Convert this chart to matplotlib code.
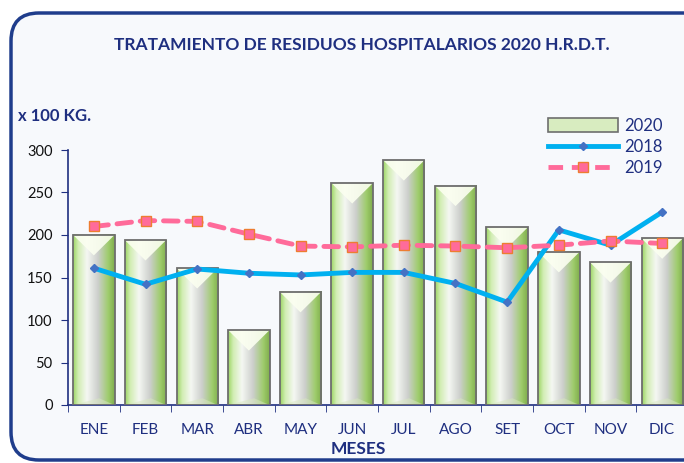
import numpy as np
import matplotlib.pyplot as plt
from matplotlib.patches import FancyBboxPatch, Polygon, Rectangle
from matplotlib.lines import Line2D
from matplotlib.transforms import IdentityTransform

meses = ['ENE', 'FEB', 'MAR', 'ABR', 'MAY', 'JUN', 'JUL', 'AGO', 'SET', 'OCT', 'NOV', 'DIC']
v2020 = [200, 194, 161, 88, 133, 261, 288, 258, 209, 180, 168, 196]
v2018 = [161, 142, 160, 155, 153, 156, 156, 143, 121, 206, 188, 227]
v2019 = [210, 217, 216, 201, 187, 186, 188, 187, 185, 188, 193, 190]
yticks = [0, 50, 100, 150, 200, 250, 300]

navy = '#1f2f80'
plt.rcParams['font.family'] = ['Lato', 'DejaVu Sans']

fig = plt.figure(figsize=(6.84, 4.63), dpi=100)
fig.patch.set_facecolor('white')

# rounded frame (pixel coords)
frame = FancyBboxPatch((11, 3), 700, 447, boxstyle='round,pad=0,rounding_size=28',
                       transform=IdentityTransform(), facecolor='#f7f9fc',
                       edgecolor='#1f3d8c', linewidth=2.5, zorder=-5)
fig.patches.append(frame)

ax = fig.add_axes([68/684, 58/463, 620/684, 255/463])
ax.set_facecolor('none')
ax.set_zorder(2)

x = np.arange(len(meses))
w = 0.8

# gradient for bars
stops = [(0.0, (0.62, 0.84, 0.40)), (0.12, (0.82, 0.93, 0.70)), (0.33, (0.96, 0.97, 0.95)),
         (0.60, (0.80, 0.81, 0.80)), (0.85, (0.62, 0.80, 0.42)), (1.0, (0.50, 0.68, 0.30))]
n = 64
t = np.linspace(0, 1, n)
grad = np.zeros((1, n, 3))
for c in range(3):
    grad[0, :, c] = np.interp(t, [s[0] for s in stops], [s[1][c] for s in stops])

bev = 24
for xi, h in zip(x, v2020):
    x0, x1 = xi - w/2, xi + w/2
    ax.imshow(grad, extent=[x0, x1, 0, h], aspect='auto', zorder=2, interpolation='bilinear')
    d = min(bev, h/2)
    ax.add_patch(Polygon([[x0, h], [x1, h], [xi, h - d]], closed=True,
                         facecolor='#fbfff0', edgecolor='none', alpha=0.9, zorder=3))
    ax.add_patch(Polygon([[x0, 0], [x1, 0], [xi + 0.1, 8]], closed=True,
                         facecolor='#d8e8c0', edgecolor='none', alpha=0.5, zorder=3))
    ax.add_patch(Rectangle((x0, 0), w, h, facecolor='none', edgecolor='#6e6e6e',
                           linewidth=1.3, zorder=4))

ax.plot(x, v2018, color='#00b0f0', linewidth=3.5, marker='D', markersize=4,
        markerfacecolor='#4472c4', markeredgecolor='#4472c4', zorder=5,
        solid_capstyle='round')
ax.plot(x, v2019, color='#ff6b9a', linewidth=3.5, linestyle=(0, (3, 1.8)), marker='s',
        markersize=7, markerfacecolor='#ff6b9a', markeredgecolor='#ed7d31', zorder=6,
        dash_capstyle='round')

ax.set_xlim(-0.5, 11.5)
ax.set_ylim(0, 300)
ax.set_yticks(yticks)
ax.set_xticks(x)
ax.set_xticklabels(meses)
ax.set_xticks(np.arange(-0.5, 12, 1), minor=True)
ax.tick_params(axis='x', which='major', length=0, pad=13, labelsize=11, labelcolor=navy)
ax.tick_params(axis='x', which='minor', length=5, color=navy, direction='out')
ax.tick_params(axis='y', length=5, color=navy, labelsize=10.5, labelcolor='#111111', pad=6)
for s in ['top', 'right']:
    ax.spines[s].set_visible(False)
for s in ['left', 'bottom']:
    ax.spines[s].set_color(navy)
    ax.spines[s].set_linewidth(1.2)

fig.text(362/684, 1 - 45/463, 'TRATAMIENTO DE RESIDUOS HOSPITALARIOS 2020 H.R.D.T.',
         ha='center', va='center', fontsize=12.5, fontweight='bold', color=navy)
fig.text(18/684, 1 - 116/463, 'x 100 KG.', ha='left', va='center', fontsize=12,
         fontweight='bold', color=navy)
fig.text(358/684, 1 - 449/463, 'MESES', ha='center', va='center', fontsize=12.5,
         fontweight='bold', color=navy)

h_bar = Rectangle((0, 0), 1, 1, facecolor='#d8ecc0', edgecolor='#6e6e6e', linewidth=1.2)
h18 = Line2D([], [], color='#00b0f0', linewidth=3.5, marker='D', markersize=4,
             markerfacecolor='#4472c4', markeredgecolor='#4472c4')
h19 = Line2D([], [], color='#ff6b9a', linewidth=3.5, linestyle=(0, (3, 1.8)), marker='s',
             markersize=7, markerfacecolor='#ff6b9a', markeredgecolor='#ed7d31')
leg = fig.legend([h_bar, h18, h19], ['2020', '2018', '2019'], loc='upper left',
                 bbox_to_anchor=(548/684, 1 - 118/463), frameon=False, fontsize=12,
                 handlelength=4.2, handleheight=0.9, labelspacing=0.3, handletextpad=0.4,
                 borderaxespad=0, borderpad=0)
for txt in leg.get_texts():
    txt.set_color(navy)

fig.savefig('out.png', dpi=100)
